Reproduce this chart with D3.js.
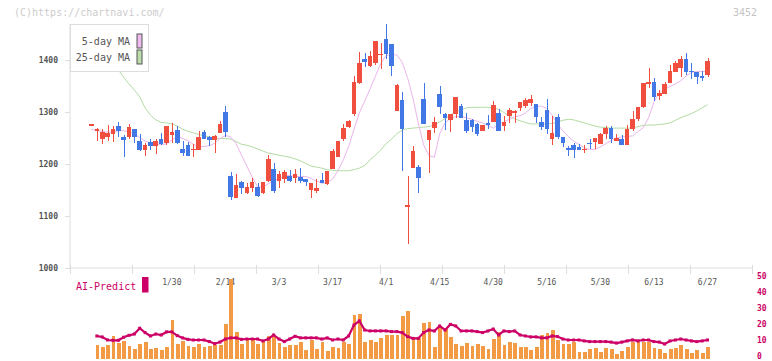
<!DOCTYPE html>
<html>
<head>
<meta charset="utf-8">
<script src="https://cdn.jsdelivr.net/npm/d3@7"></script>
<style>
  body { margin: 0; background: #fff; }
  svg { display: block; }
  text { font-family: "DejaVu Sans Mono", monospace; }
</style>
</head>
<body>
<svg id="chart" width="772" height="361"></svg>
<script>
// trading days shown on the chart (2025)
const dates = ["1/8","1/9","1/10","1/14","1/15","1/16","1/17","1/20","1/21","1/22","1/23","1/24","1/27","1/28","1/29",
  "1/30","1/31","2/3","2/4","2/5","2/6","2/7","2/10","2/12","2/13","2/14","2/17","2/18","2/19","2/20","2/21",
  "2/25","2/26","2/27","2/28","3/3","3/4","3/5","3/6","3/7","3/10","3/11","3/12","3/13","3/14","3/17","3/18",
  "3/19","3/21","3/24","3/25","3/26","3/27","3/28","3/31","4/1","4/2","4/3","4/4","4/7","4/8","4/9","4/10",
  "4/11","4/14","4/15","4/16","4/17","4/18","4/21","4/22","4/23","4/24","4/25","4/28","4/30","5/1","5/2",
  "5/7","5/8","5/9","5/12","5/13","5/14","5/15","5/16","5/19","5/20","5/21","5/22","5/23","5/26","5/27",
  "5/28","5/29","5/30","6/2","6/3","6/4","6/5","6/6","6/9","6/10","6/11","6/12","6/13","6/16","6/17",
  "6/18","6/19","6/20","6/23","6/24","6/25","6/26","6/27"];
const labelDates = ["1/30","2/14","3/3","3/17","4/1","4/15","4/30","5/16","5/30","6/13","6/27"];

const open = [1276,1264,1249,1251,1258,1273,1252,1252,1267,1244,1226,1242,1235,1248,1241,1256,1265,1229,1236,1226,
  1227,1261,1251,1247,1260,1300,1176,1135,1166,1145,1154,1156,1145,1168,1190,1168,1171,1177,1174,1175,
  1171,1150,1148,1169,1161,1190,1214,1248,1272,1296,1356,1402,1389,1395,1409,1440,1431,1301,1323,1118,
  1193,1195,1325,1247,1270,1335,1296,1285,1296,1311,1285,1285,1277,1264,1278,1281,1299,1274,1292,1299,
  1308,1312,1318,1315,1281,1304,1248,1290,1252,1231,1236,1233,1228,1240,1242,1238,1258,1269,1244,1248,
  1236,1267,1286,1310,1354,1358,1331,1335,1356,1377,1385,1402,1379,1376,1369,1371];
const high = [1276,1269,1267,1275,1273,1281,1256,1277,1268,1258,1241,1249,1249,1259,1274,1278,1273,1245,1242,1238,
  1263,1265,1254,1255,1283,1311,1184,1181,1168,1164,1174,1164,1165,1217,1201,1187,1188,1188,1190,1193,
  1172,1163,1171,1183,1187,1228,1244,1277,1285,1369,1415,1414,1417,1436,1432,1469,1431,1354,1339,1177,
  1235,1198,1356,1265,1290,1350,1299,1296,1328,1315,1299,1286,1279,1275,1294,1322,1305,1292,1307,1304,
  1319,1327,1333,1315,1291,1325,1292,1297,1252,1235,1240,1238,1236,1248,1250,1259,1274,1273,1258,1256,
  1275,1301,1310,1356,1385,1365,1342,1358,1390,1398,1408,1413,1394,1376,1379,1404];
const low = [1276,1245,1238,1245,1242,1252,1214,1249,1241,1225,1216,1227,1220,1236,1236,1241,1238,1216,1216,1214,
  1227,1248,1235,1222,1259,1251,1131,1135,1142,1142,1147,1137,1142,1166,1144,1153,1163,1166,1163,1164,
  1158,1135,1144,1163,1160,1190,1214,1245,1270,1293,1354,1386,1386,1390,1383,1401,1370,1301,1187,1046,
  1193,1145,1276,1183,1260,1296,1265,1262,1288,1289,1259,1262,1254,1264,1267,1280,1264,1264,1279,1279,
  1302,1308,1312,1279,1265,1258,1236,1248,1233,1215,1212,1226,1222,1228,1228,1238,1248,1241,1244,1236,
  1236,1264,1283,1308,1347,1322,1323,1335,1356,1377,1368,1371,1363,1354,1360,1368];
const close = [1276,1267,1261,1259,1267,1264,1247,1272,1251,1226,1236,1235,1244,1238,1273,1261,1241,1221,1216,1229,
  1251,1249,1247,1254,1277,1262,1137,1160,1154,1155,1166,1139,1165,1210,1149,1181,1184,1167,1181,1168,
  1166,1163,1154,1164,1187,1225,1244,1270,1283,1358,1395,1397,1408,1436,1411,1411,1389,1352,1267,1121,
  1225,1174,1276,1265,1280,1310,1289,1296,1328,1289,1264,1271,1257,1275,1277,1313,1264,1281,1304,1302,
  1319,1323,1325,1291,1272,1268,1259,1251,1240,1226,1226,1226,1229,1238,1250,1258,1269,1248,1250,1236,
  1267,1286,1310,1356,1358,1329,1336,1354,1379,1394,1402,1376,1377,1368,1366,1398];

const ma5 = [1267,1264,1263,1261,1262,1264,1264,1262,1258,1251,1244,1241,1239,1237,1239,1246,1253,1249,1245,1238,
  1233,1234,1235,1240,1249,1255,1252,1239,1217,1196,1175,1156,1156,1162,1169,1171,1177,1178,1176,1176,
  1176,1172,1167,1163,1164,1171,1187,1208,1233,1267,1298,1321,1344,1369,1393,1409,1410,1410,1396,1366,
  1327,1279,1237,1216,1213,1258,1279,1288,1291,1291,1289,1286,1282,1279,1274,1269,1276,1281,1286,1291,
  1293,1298,1307,1311,1311,1307,1294,1277,1264,1253,1244,1238,1231,1228,1228,1233,1239,1245,1250,1252,
  1253,1254,1262,1270,1289,1319,1337,1344,1349,1354,1360,1369,1376,1378,1378,1378];
const ma25 = [1448,1435,1421,1408,1394,1381,1367,1354,1342,1329,1308,1294,1285,1280,1279,1277,1273,1267,1263,1260,
  1257,1254,1252,1250,1249,1249,1248,1243,1238,1236,1233,1229,1225,1221,1219,1217,1215,1213,1210,1206,
  1201,1196,1194,1192,1189,1188,1187,1187,1187,1189,1192,1197,1208,1217,1227,1239,1248,1258,1265,1268,
  1269,1270,1271,1272,1275,1281,1287,1294,1300,1304,1308,1309,1309,1309,1309,1308,1305,1299,1292,1287,
  1283,1280,1277,1277,1277,1277,1278,1281,1284,1286,1285,1282,1279,1276,1273,1271,1270,1269,1269,1269,
  1269,1269,1272,1274,1275,1275,1276,1277,1279,1284,1289,1293,1297,1302,1308,1314];

const volume = [null,8.4,7.1,8.4,14,9.8,10.9,7.8,5.9,9,10.2,5.9,6.5,5.3,7.1,23.9,9,10.9,7.8,7.1,
  9,7.1,7.8,8.4,8.4,21.4,49.4,16.5,9,11.5,11.5,9,10.9,14,14,9.8,7.1,8.4,8.4,10.2,
  5.3,11.5,5.9,10.2,4.7,7.1,6.5,10.2,9,27,27.6,10.2,11.5,10.2,12.7,14.6,14.6,14.6,26.4,29.5,
  13.5,12.5,21.9,22.5,7.3,20.4,19.1,13.4,9,7.8,9.6,7.8,8.8,7.8,5.9,12.1,16.3,8.4,10.2,9.6,
  7.1,7.1,5.3,7.1,14.6,15.8,17.7,11.5,9,9,10.2,4,4,5.9,6.5,4,6.5,5.9,2.8,4.7,
  7.1,10.2,10.2,10.2,10.2,6.5,5.9,3.4,5.9,6.5,8.4,5.9,3.4,5.3,3.4,7.1];
const aiPredict = [null,14,13.4,11.5,11.3,11.3,13.2,14.4,15.2,18.8,16.1,14,15.2,14.6,16.5,16.5,14.2,12.8,11.9,11.5,
  11.5,11.5,10.5,9.2,10.2,12.1,12.8,12.8,11.9,12.1,12.1,12.1,10.9,12.1,14.6,12.1,10.5,12.1,13.8,12.8,
  12.8,12.8,12.8,12.1,12.8,11.5,12.1,11.5,14,20.8,23.3,17.7,17.1,17.1,17.1,17.1,16.7,16.7,16.1,13.6,
  12.5,12.5,16.1,17.7,17.1,20.2,17.7,21.2,20.2,17.1,17.1,17.1,16.7,16.1,17.1,18.3,14.6,17.1,16.7,17.1,
  14.6,14,13.4,13.4,12.8,12.8,14,13.6,12.1,11.5,11.5,11.5,10.9,10.5,10.5,10.5,10.5,10.2,9.6,10.2,
  10.9,11.5,10.9,11.5,11.5,10.5,10.2,9,10.9,11.5,12.1,11.5,10.9,10.5,10.9,11.5];

const priceTicks = [1000, 1100, 1200, 1300, 1400];
const volumeTicks = [0, 10, 20, 30, 40, 50];

const candles = dates.map((d, i) => ({
  date: d, open: open[i], high: high[i], low: low[i], close: close[i],
  ma5: ma5[i], ma25: ma25[i], volume: volume[i], ai: aiPredict[i]
}));

const svg = d3.select("#chart");
const UP = "#f04e3e", DOWN = "#4178e6";
const AXIS = "#dddddd";

const x = d3.scalePoint().domain(dates).range([91.5, 707.5]);
const y = d3.scaleLinear().domain([1000, 1400]).range([268, 60]);
const yv = d3.scaleLinear().domain([0, 50]).range([358.5, 278]);
const grid = d3.scaleLinear().domain([0, 11]).range([70, 752]);

// watermark
svg.append("text").attr("x", 14).attr("y", 16)
  .attr("font-size", 10).attr("fill", "#cccccc")
  .text("(C)https://chartnavi.com/");
svg.append("text").attr("x", 757).attr("y", 16)
  .attr("font-size", 10).attr("fill", "#c4c4c4").attr("text-anchor", "end")
  .text("3452");

// left price axis
svg.append("line").attr("x1", 70).attr("x2", 70).attr("y1", 24).attr("y2", 268)
  .attr("stroke", AXIS);
const yAxis = svg.append("g").attr("transform", "translate(70,0)")
  .call(d3.axisLeft(y).tickValues(priceTicks).tickSize(5).tickPadding(7).tickFormat(d3.format("d")));
yAxis.select(".domain").remove();
yAxis.selectAll(".tick line").attr("stroke", AXIS);
yAxis.selectAll(".tick text").attr("font-family", "DejaVu Sans Mono")
  .attr("font-size", 8).attr("font-weight", "bold").attr("fill", "#555");

// bottom axis with fixed grid ticks
const xAxis = svg.append("g").attr("transform", "translate(0,268)")
  .call(d3.axisBottom(grid).ticks(12).tickSize(6).tickFormat(""));
xAxis.select(".domain").attr("stroke", AXIS).attr("d", "M70,0H752");
xAxis.selectAll(".tick line").attr("stroke", AXIS).attr("y1", -3);

// date labels
svg.append("g").selectAll("text").data(labelDates).join("text")
  .attr("x", d => x(d)).attr("y", 285)
  .attr("text-anchor", "middle").attr("font-size", 8).attr("fill", "#555")
  .text(d => d);

// moving averages
const maLine = key => d3.line().x(d => x(d.date)).y(d => y(d[key]));
svg.append("path").datum(candles).attr("d", maLine("ma25"))
  .attr("fill", "none").attr("stroke", "#b3dba3").attr("stroke-width", 1);
svg.append("path").datum(candles).attr("d", maLine("ma5"))
  .attr("fill", "none").attr("stroke", "#ebb5eb").attr("stroke-width", 1);

// candles
const bodyW = 4.6;
const cg = svg.append("g").attr("shape-rendering", "crispEdges");
cg.selectAll("line").data(candles).join("line")
  .attr("x1", d => Math.round(x(d.date)) + 0.5).attr("x2", d => Math.round(x(d.date)) + 0.5)
  .attr("y1", d => y(d.high)).attr("y2", d => y(d.low))
  .attr("stroke", d => d.close >= d.open ? UP : DOWN);
cg.selectAll("rect").data(candles).join("rect")
  .attr("x", d => x(d.date) - bodyW / 2).attr("width", bodyW)
  .attr("y", d => y(Math.max(d.open, d.close)))
  .attr("height", d => Math.max(1.2, Math.abs(y(d.open) - y(d.close))))
  .attr("fill", d => d.close >= d.open ? UP : DOWN);

// legend
const lg = svg.append("g");
lg.append("rect").attr("x", 70.5).attr("y", 24.5).attr("width", 78).attr("height", 47)
  .attr("fill", "#fff").attr("stroke", AXIS);
[["5-day MA", "#eebbee", 41], ["25-day MA", "#bbddaa", 57]].forEach(([label, color, cy]) => {
  lg.append("text").attr("x", 130).attr("y", cy + 3.5).attr("text-anchor", "end")
    .attr("font-size", 10).attr("fill", "#555").text(label);
  lg.append("rect").attr("x", 137).attr("y", cy - 7).attr("width", 5).attr("height", 14)
    .attr("fill", color).attr("stroke", "#555").attr("stroke-width", 1);
});

// AI-Predict legend
svg.append("text").attr("x", 76).attr("y", 289.5).attr("font-size", 10)
  .attr("fill", "#cc0066").text("AI-Predict");
svg.append("rect").attr("x", 142).attr("y", 277).attr("width", 6.5).attr("height", 15.5)
  .attr("fill", "#cc0066");

// volume bars
const volData = candles.filter(d => d.volume != null);
svg.append("g").attr("shape-rendering", "crispEdges")
  .selectAll("rect").data(volData).join("rect")
  .attr("x", d => x(d.date) + 0.6 - 1.9).attr("width", 3.8)
  .attr("y", d => yv(d.volume)).attr("height", d => yv(0) - yv(d.volume))
  .attr("fill", "#f39a45");

// AI-Predict line
const aiData = candles.filter(d => d.ai != null);
svg.append("path").datum(aiData)
  .attr("d", d3.line().x(d => x(d.date)).y(d => yv(d.ai)))
  .attr("fill", "none").attr("stroke", "#cc0066").attr("stroke-width", 2.2);
svg.append("g").selectAll("rect").data(aiData).join("rect")
  .attr("x", d => x(d.date) - 1.5).attr("y", d => yv(d.ai) - 1.5)
  .attr("width", 3).attr("height", 3).attr("fill", "#cc0066");

// right volume axis labels
const vAxis = svg.append("g").attr("transform", "translate(755,-2.5)")
  .call(d3.axisRight(yv).tickValues(volumeTicks).tickSize(0).tickPadding(2));
vAxis.select(".domain").remove();
vAxis.selectAll(".tick text").attr("font-family", "DejaVu Sans Mono")
  .attr("font-size", 8).attr("font-weight", "bold").attr("fill", "#cc0066");
</script>
</body>
</html>
